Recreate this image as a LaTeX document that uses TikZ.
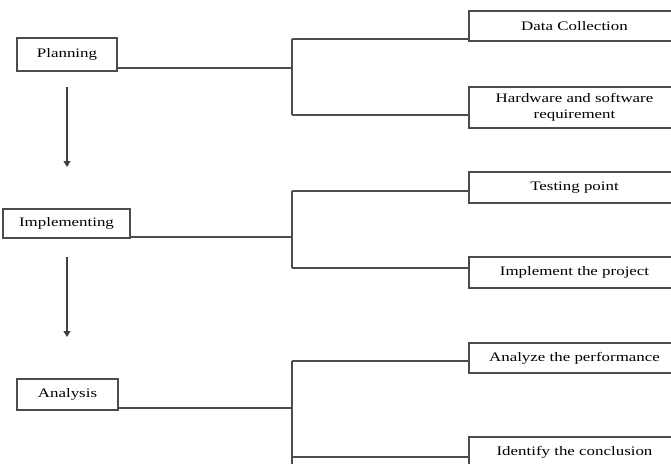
\documentclass[tikz,border=0pt]{standalone}
\usepackage{graphicx}
\usepackage{fontspec}
\setmainfont{Liberation Serif}
\usetikzlibrary{arrows.meta}
\newcommand{\widetxt}[1]{\scalebox{1.3}[1]{#1}}
\tikzset{
  box/.style={draw=black!70, line width=1.1pt, fill=white, inner sep=0pt, align=center,
    font=\fontsize{13}{16}\selectfont},
  conn/.style={draw=black!70, line width=1.1pt},
  flow/.style={draw=black!75, line width=1.1pt, -{Triangle[width=7pt,length=6pt]}}
}
\begin{document}
\begin{tikzpicture}[x=1pt,y=-1pt]
\clip (0,0) rectangle (671,463);
\useasboundingbox (0,0) rectangle (671,463);
\fill[white] (0,0) rectangle (671,463);
% left boxes
\node[box, minimum width=100pt, minimum height=33pt] (plan) at (67,54.5) {\widetxt{Planning}};
\node[box, minimum width=127pt, minimum height=29pt] (impl) at (66.5,223.5) {\widetxt{Implementing}};
\node[box, minimum width=101pt, minimum height=31pt] (ana) at (67.5,394.5) {\widetxt{Analysis}};
% right boxes
\node[box, minimum width=211pt, minimum height=30pt] (dc) at (574.5,26) {\widetxt{Data Collection}};
\node[box, minimum width=211pt, minimum height=41pt] (hw) at (574.5,107.5) {\widetxt{Hardware and software}\\\widetxt{requirement}};
\node[box, minimum width=211pt, minimum height=31pt] (tp) at (574.5,187.5) {\widetxt{Testing point}};
\node[box, minimum width=211pt, minimum height=31pt] (ip) at (574.5,272.5) {\widetxt{Implement the project}};
\node[box, minimum width=211pt, minimum height=30pt] (ap) at (574.5,358) {\widetxt{Analyze the performance}};
\node[box, minimum width=211pt, minimum height=30pt] (ic) at (574.5,452) {\widetxt{Identify the conclusion}};
% junction coordinates
\coordinate (j1) at (292,68);
\coordinate (j1t) at (292,39);
\coordinate (j1b) at (292,115);
\coordinate (j2) at (292,237);
\coordinate (j2t) at (292,191);
\coordinate (j2b) at (292,268);
\coordinate (j3) at (292,408);
\coordinate (j3t) at (292,361);
\coordinate (j3b) at (292,470);
\coordinate (j3c) at (292,457);
% connectors
\draw[conn] (plan.east |- j1) -- (j1);
\draw[conn] (j1t) -- (j1b);
\draw[conn] (j1t) -- (dc.west |- j1t);
\draw[conn] (j1b) -- (hw.west |- j1b);
\draw[conn] (impl.east |- j2) -- (j2);
\draw[conn] (j2t) -- (j2b);
\draw[conn] (j2t) -- (tp.west |- j2t);
\draw[conn] (j2b) -- (ip.west |- j2b);
\draw[conn] (ana.east |- j3) -- (j3);
\draw[conn] (j3t) -- (j3b);
\draw[conn] (j3t) -- (ap.west |- j3t);
\draw[conn] (j3c) -- (ic.west |- j3c);
% flow arrows
\coordinate (a1s) at (67,87);
\coordinate (a1e) at (67,167);
\coordinate (a2s) at (67,257);
\coordinate (a2e) at (67,337);
\draw[flow] (a1s) -- (a1e);
\draw[flow] (a2s) -- (a2e);
\end{tikzpicture}
\end{document}
